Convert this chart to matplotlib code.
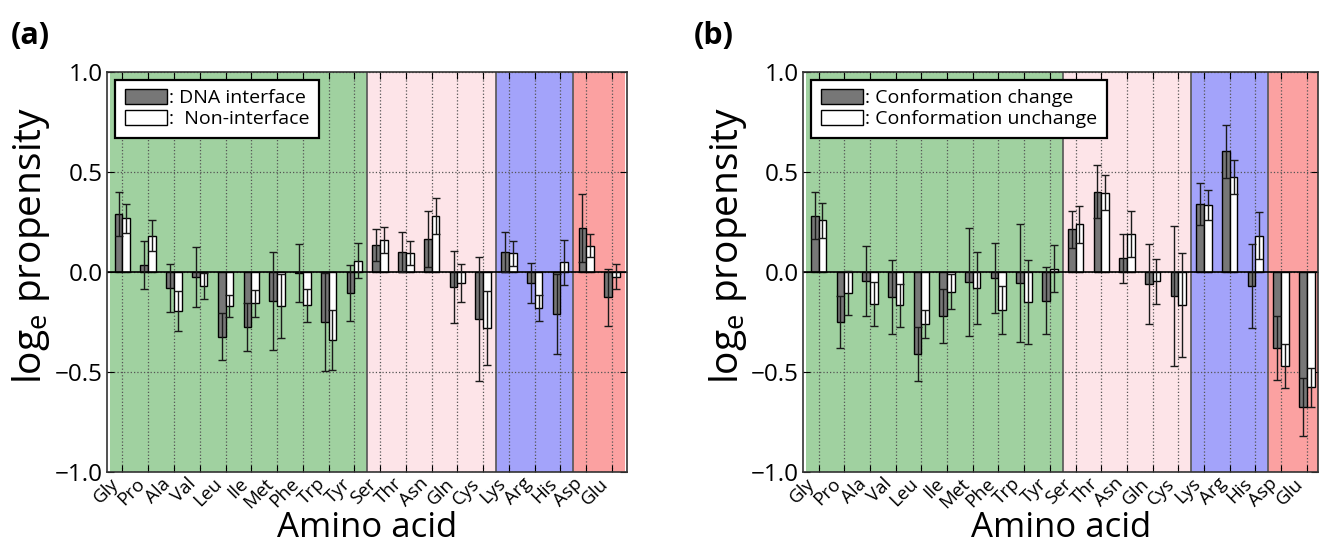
import numpy as np
import matplotlib.pyplot as plt

plt.rcParams['font.family'] = ['Open Sans', 'DejaVu Sans']
plt.rcParams['mathtext.fontset'] = 'custom'
plt.rcParams['mathtext.rm'] = 'Open Sans'

amino = ['Gly', 'Pro', 'Ala', 'Val', 'Leu', 'Ile', 'Met', 'Phe', 'Trp', 'Tyr',
         'Ser', 'Thr', 'Asn', 'Gln', 'Cys', 'Lys', 'Arg', 'His', 'Asp', 'Glu']

# panel (a): DNA interface vs non-interface
dna_int = [0.288, 0.035, -0.083, -0.028, -0.325, -0.278, -0.145, -0.008, -0.252, -0.105,
           0.133, 0.100, 0.163, -0.075, -0.235, 0.097, -0.055, -0.212, 0.220, -0.128]
dna_int_err = [0.11, 0.12, 0.12, 0.15, 0.117, 0.12, 0.245, 0.145, 0.245, 0.14,
               0.08, 0.10, 0.14, 0.18, 0.31, 0.10, 0.10, 0.20, 0.17, 0.142]
non_int = [0.267, 0.180, -0.195, -0.072, -0.172, -0.158, -0.172, -0.168, -0.342, 0.055,
           0.158, 0.095, 0.280, -0.055, -0.283, 0.092, -0.183, 0.047, 0.130, -0.025]
non_int_err = [0.073, 0.077, 0.10, 0.066, 0.055, 0.068, 0.16, 0.083, 0.15, 0.088,
               0.064, 0.06, 0.09, 0.095, 0.185, 0.063, 0.065, 0.113, 0.057, 0.063]

# panel (b): conformation change vs unchange
conf_ch = [0.280, -0.250, -0.045, -0.128, -0.413, -0.220, -0.050, -0.033, -0.058, -0.145,
           0.213, 0.400, 0.067, -0.063, -0.120, 0.337, 0.603, -0.072, -0.383, -0.678]
conf_ch_err = [0.117, 0.13, 0.175, 0.185, 0.135, 0.134, 0.27, 0.175, 0.295, 0.167,
               0.092, 0.133, 0.122, 0.20, 0.35, 0.105, 0.133, 0.21, 0.16, 0.145]
conf_un = [0.258, -0.105, -0.162, -0.167, -0.262, -0.100, -0.080, -0.192, -0.153, 0.015,
           0.237, 0.395, 0.187, -0.047, -0.167, 0.333, 0.475, 0.180, -0.472, -0.578]
conf_un_err = [0.087, 0.11, 0.11, 0.108, 0.07, 0.088, 0.18, 0.12, 0.21, 0.117,
               0.092, 0.087, 0.115, 0.112, 0.26, 0.075, 0.086, 0.118, 0.11, 0.098]

# residue groups: (first index, last index, colour)
groups = [(0, 9, '#a0d1a0'), (10, 14, '#fde4e8'), (15, 17, '#a3a3fa'), (18, 19, '#fba1a1')]


def draw_panel(ax, v1, e1, v2, e2, lab1, lab2, xlim):
    x = np.arange(len(amino))
    w = 0.3
    for g0, g1, col in groups:
        lo = max(g0 - 0.5, xlim[0])
        hi = min(g1 + 0.5, xlim[1])
        ax.axvspan(lo, hi, color=col, zorder=0, lw=0)
    for g0, g1, col in groups[1:]:
        ax.axvline(g0 - 0.5, color='#555555', lw=1.2, zorder=1)
    ax.grid(True, color='#555555', linestyle=':', lw=0.9, zorder=1)
    ax.set_axisbelow(True)
    ax.bar(x - w / 2, v1, w, color='#777777', edgecolor='k', lw=1, label=lab1, zorder=2)
    ax.bar(x + w / 2, v2, w, color='white', edgecolor='k', lw=1, label=lab2, zorder=2)
    ax.errorbar(x - w / 2, v1, yerr=e1, fmt='none', ecolor='#1a1a1a', elinewidth=1,
                capsize=3, capthick=1, zorder=3)
    ax.errorbar(x + w / 2, v2, yerr=e2, fmt='none', ecolor='#1a1a1a', elinewidth=1,
                capsize=3, capthick=1, zorder=3)
    ax.axhline(0, color='k', lw=1.2, zorder=2.5)
    ax.set_xlim(*xlim)
    ax.set_ylim(-1.0, 1.0)
    ax.set_xticks(x)
    ax.set_xticklabels(amino, rotation=45, ha='right', fontsize=13.5)
    ax.set_yticks([-1.0, -0.5, 0.0, 0.5, 1.0])
    ax.set_yticklabels(['\u22121.0', '\u22120.5', '0.0', '0.5', '1.0'], fontsize=17.5)
    ax.tick_params(direction='in', top=True, right=True, length=5, pad=3)
    ax.tick_params(axis='x', pad=2)
    ax.set_xlabel('Amino acid', fontsize=25, labelpad=0)
    ax.set_ylabel('log$_\\mathregular{e}$ propensity', fontsize=28)
    ax.yaxis.set_label_coords(-0.105, 0.565)
    for sp in ax.spines.values():
        sp.set_linewidth(1.2)
        sp.set_color('#333333')
    leg = ax.legend(loc='upper left', fontsize=14, frameon=True, fancybox=False,
                    framealpha=1, edgecolor='k', handlelength=2.2, handleheight=0.75,
                    handletextpad=0.1, borderaxespad=0.4, labelspacing=0.15,
                    borderpad=0.5)
    leg.get_frame().set_linewidth(1.6)
    return ax


fig = plt.figure(figsize=(13.21, 5.48), dpi=100)
ax1 = fig.add_axes([0.081, 0.139, 0.394, 0.73])
ax2 = fig.add_axes([0.608, 0.139, 0.390, 0.73])

draw_panel(ax1, dna_int, dna_int_err, non_int, non_int_err,
           ': DNA interface', ':  Non-interface', (-0.6, 19.6))
draw_panel(ax2, conf_ch, conf_ch_err, conf_un, conf_un_err,
           ': Conformation change', ': Conformation unchange', (-0.6, 19.45))

fig.text(0.008, 0.92, '(a)', fontsize=22, fontweight='bold')
fig.text(0.525, 0.92, '(b)', fontsize=22, fontweight='bold')

fig.savefig('out.png', dpi=100)
